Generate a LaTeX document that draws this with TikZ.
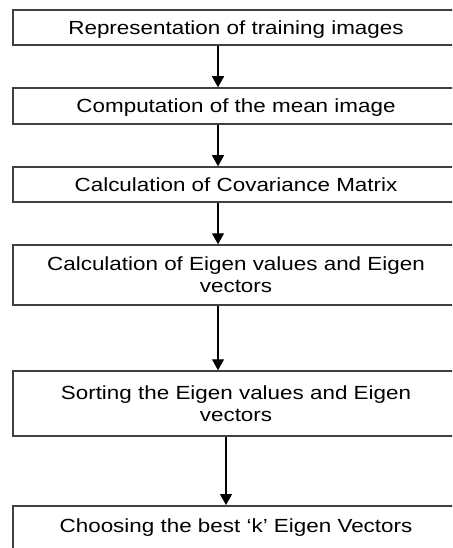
\documentclass[tikz,border=0pt]{standalone}
\usepackage{fontspec}
\setmainfont{Liberation Sans}[FakeStretch=1.18]
\usepackage{tikz}
\usetikzlibrary{arrows.meta,positioning}

\begin{document}
\begin{tikzpicture}[x=1pt, y=-1pt, >={Triangle[width=12pt,length=11pt]},
      font=\fontsize{19}{22}\selectfont,
      box/.style={draw=black!75, line width=1.5pt, align=center, minimum width=446pt, inner sep=0pt},
      onebox/.style={box, text height=14pt, text depth=0pt},
      flow/.style={->, line width=1.3pt}]
      \useasboundingbox (0,0) rectangle (452,548);
      \clip (0,0) rectangle (452,548);
      \node[onebox, minimum height=35pt] (rep)  at (236,27.5)  {Representation of training images};
      \node[onebox, minimum height=36pt] (mean) at (236,106)   {Computation of the mean image};
      \node[onebox, minimum height=35pt] (cov)  at (236,184.5) {Calculation of Covariance Matrix};
      \node[box, minimum height=60pt] (eig)  at (236,275)   {Calculation of Eigen values and Eigen\\vectors};
      \node[box, minimum height=65pt] (sort) at (236,403.5) {Sorting the Eigen values and Eigen\\vectors};
      \node[box, anchor=north, inner ysep=13pt, text depth=30pt] (best) at (236,505) {Choosing the best `k' Eigen Vectors};
      \draw[flow] ([xshift=-18pt]rep.south)  -- ([xshift=-18pt]rep.south |- mean.north);
      \draw[flow] ([xshift=-18pt]mean.south) -- ([xshift=-18pt]mean.south |- cov.north);
      \draw[flow] ([xshift=-18pt]cov.south)  -- ([xshift=-18pt]cov.south |- eig.north);
      \draw[flow] ([xshift=-18pt]eig.south)  -- ([xshift=-18pt]eig.south |- sort.north);
      \draw[flow] ([xshift=-10pt]sort.south) -- ([xshift=-10pt]sort.south |- best.north);
    \end{tikzpicture}
\end{document}
